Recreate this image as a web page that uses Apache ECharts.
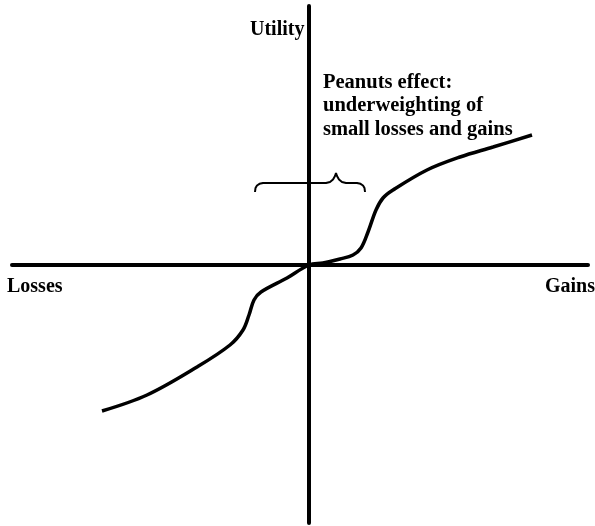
<!DOCTYPE html>
<html>
<head>
<meta charset="utf-8">
<title>Peanuts effect</title>
<script src="https://cdn.jsdelivr.net/npm/echarts@6/dist/echarts.min.js"></script>
<style>
  html, body { margin: 0; padding: 0; background: #fff; }
  #chart { width: 595px; height: 526px; }
</style>
</head>
<body>
<div id="chart"></div>
<script>
// value function (x: losses/gains, y: utility)
var curveX = [-207, -162, -112, -79, -66, -60, -55, -48, -22, 0, 14, 31, 44, 52, 59, 67, 74, 84, 118, 151, 184, 223];
var curveY = [-146, -130, -102, -80, -65, -50, -35, -27, -13, 0, 2, 6, 10, 17, 33, 55, 67, 75, 95, 108, 118, 130];

// brace above the small-losses-and-gains zone
var braceX = [-54, -53.5, -52, -49.5, -46, 17, 21, 24, 26, 27, 28, 30, 33, 37, 48, 51.5, 54, 55.5, 56];
var braceY = [73, 77, 79.5, 81.2, 82, 82, 83, 85.5, 89, 92, 89, 85.5, 83, 82, 82, 81.2, 79.5, 77, 73];

var noteLines = ['Peanuts effect:', 'underweighting of', 'small losses and gains'];

function pairs(xs, ys) {
  var out = [];
  for (var i = 0; i < xs.length; i++) out.push([xs[i], ys[i]]);
  return out;
}

var font = 'bold 20px "Liberation Serif", "Times New Roman", serif';
var noteFont = 'bold 20.5px "Liberation Serif", "Times New Roman", serif';

var texts = [
  { type: 'text', left: 250, top: 20, style: { text: 'Utility', font: font, fill: '#000' } },
  { type: 'text', left: 7, top: 277, style: { text: 'Losses', font: font, fill: '#000' } },
  { type: 'text', left: 545, top: 277, style: { text: 'Gains', font: font, fill: '#000' } }
];
for (var i = 0; i < noteLines.length; i++) {
  texts.push({ type: 'text', left: 323, top: 72 + i * 23.5, style: { text: noteLines[i], font: noteFont, fill: '#000' } });
}

var chart = echarts.init(document.getElementById('chart'), null, { renderer: 'canvas' });
chart.setOption({
  animation: false,
  grid: { left: 12, right: 7, top: 6, bottom: 3 },
  xAxis: {
    type: 'value', min: -297, max: 279,
    axisLine: { show: true, onZero: true, lineStyle: { color: '#000', width: 4 } },
    axisTick: { show: false }, axisLabel: { show: false }, splitLine: { show: false }
  },
  yAxis: {
    type: 'value', min: -258, max: 259,
    axisLine: { show: true, onZero: true, lineStyle: { color: '#000', width: 4 } },
    axisTick: { show: false }, axisLabel: { show: false }, splitLine: { show: false }
  },
  series: [
    {
      type: 'line', data: pairs(curveX, curveY), showSymbol: false, symbol: 'none',
      smooth: 0.35,
      lineStyle: { color: '#000', width: 3.5 }, z: 3
    },
    {
      type: 'line', data: pairs(braceX, braceY), showSymbol: false, symbol: 'none',
      lineStyle: { color: '#000', width: 2 }, z: 3
    }
  ],
  graphic: texts
});
</script>
</body>
</html>
